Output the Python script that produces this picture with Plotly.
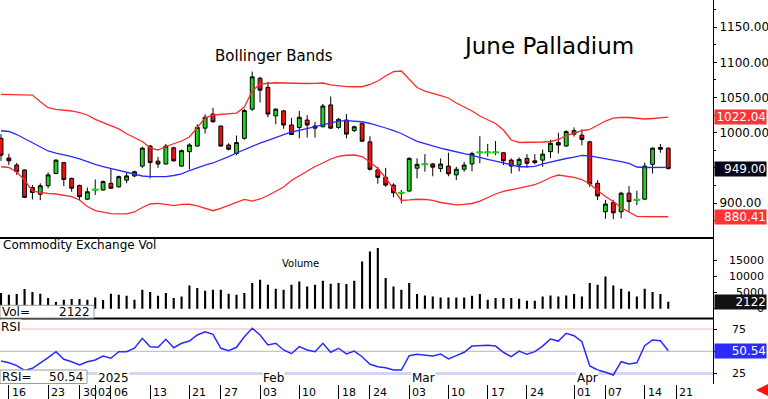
import plotly.graph_objects as go

# ---------------- data ----------------
open_ = [992, 964, 954, 947, 922, 912.5, 924.5, 942, 957.5, 935, 925, 905.5, 919, 918.5, 928, 923,
         932.5, 938.5, 952.5, 981, 959.5, 955.5, 978.5, 952.5, 973, 981, 1006.5, 1026.5, 1009.5, 982.5,
         970.5, 992, 1033.5, 1077.5, 1064.5, 1024, 1031, 1011, 1007.5, 1018, 1009.5, 1008.5, 1039.5,
         1007.5, 1018, 1003, 1013.5, 987, 947, 936.5, 925.5, 914.5, 917, 949.5, 955, 955.5, 949, 952.5,
         940, 948, 955.5, 972, 972, 972, 971.5, 961, 954, 963.5, 960, 961, 973, 986, 981, 1003, 996.5,
         987, 928, 887.5, 900.5, 887.5, 914, 904.5, 905.5, 955, 979, 978]
high = [998, 970, 957, 948, 925.5, 928, 943.5, 962, 958.5, 936, 926, 922, 933.5, 932, 948.5, 939,
        943, 946, 980, 982.5, 965.5, 984, 980, 976, 985, 1012, 1026, 1035.5, 1010, 985,
        996, 1034, 1087, 1079.5, 1072.5, 1034.5, 1032.5, 1021, 1031, 1025, 1015.5, 1041, 1051.5,
        1021, 1026.5, 1010, 1014, 995, 951.5, 950, 928, 918.5, 965, 963.5, 969.5, 957, 963.5, 971.5,
        951.5, 958.5, 973, 995, 984, 988, 972, 963.5, 965, 969.5, 969.5, 976, 990, 1000, 1003.5, 1007.5, 1005,
        988.5, 932.5, 904.5, 904.5, 916, 924, 917.5, 957.5, 979, 984, 979]
low = [960, 954, 940, 907, 905, 904, 921, 941, 924, 916, 904, 904, 911.5, 917.5, 920, 922,
       928, 937, 950, 935, 950, 955, 959, 951.5, 948, 980, 999, 1014.5, 980, 975,
       968, 990, 1031, 1043, 1022, 1012, 1005.5, 997, 992, 993, 993, 1007.5, 1005.5,
       1005.5, 992, 1001, 987, 946, 927.5, 923, 908, 899.5, 916, 935, 944.5, 938, 944, 938,
       932.5, 944.5, 945, 956.5, 966, 968, 954, 942, 945, 950, 955, 951.5, 964, 970.5, 980, 994.5, 982,
       923, 904, 877.5, 877, 878, 887.5, 897, 904.5, 942, 971.5, 947.5]
close = [968, 960, 944.5, 908, 915, 924.5, 940, 961, 933.5, 921, 909, 916, 919, 930.5, 921, 937.5,
         938.5, 944.5, 978, 957.5, 955.5, 981, 960, 974.5, 982.5, 1007.5, 1022, 1015.5, 981, 976.5,
         986, 1031.5, 1079.5, 1060.5, 1026.5, 1033.5, 1011, 997.5, 1022, 1011, 1006.5, 1038, 1006.5,
         1019, 998, 1008.5, 988, 948, 936.5, 925.5, 914.5, 914.5, 963.5, 955, 955, 951, 955.5, 941.5,
         948, 954, 970.5, 972, 972, 972, 960, 952.5, 962, 956.5, 957.5, 969.5, 985, 982.5, 1001.5, 998, 990.5,
         927, 910, 898.5, 886, 914, 902, 904.5, 952.5, 978, 976.5, 949.00]

bb_upper = [1054.6, 1054.6, 1054.6, 1054.3, 1053.6, 1044, 1035.6, 1033.3, 1032.3, 1030.9, 1028.4, 1025.2,
            1019, 1014.2, 1010, 1005.5, 998.5, 993, 987.5, 978.2, 975.4, 980.4, 983.9, 988.2, 993.9,
            1006.7, 1020.9, 1025.2, 1025.9, 1026.6, 1028, 1036.6, 1059.3, 1069.3, 1070.7, 1071.1, 1070.7,
            1070.3, 1070, 1070, 1070.3, 1070.7, 1067.9, 1066.4, 1065.7, 1065.4, 1065.4, 1068.6, 1073.5,
            1080.7, 1086.8, 1087.8, 1075.7, 1064.3, 1059.3, 1056.5, 1052.9, 1049.4, 1042.2, 1036.6, 1030.9,
            1023.8, 1018, 1013.1, 1003.8, 989.6, 986.1, 986.1, 986.3, 986.8, 987.5, 990.3, 996, 999.6,
            1002.8, 1004.6, 1011, 1016.6, 1020.9, 1021.9, 1021.6, 1020.2, 1019.5, 1020.2, 1020.9, 1022.04]
bb_mid = [1002.8, 1001.7, 997.4, 991.7, 986.1, 980.4, 974, 971.1, 969, 966.1, 962.6, 958.3, 954.8, 951.9,
          949.1, 946.9, 943.2, 940.5, 938.4, 937.4, 937.4, 937.4, 939.1, 941.3, 946.2, 950.5, 954, 956.9,
          961.2, 966.1, 971.1, 976.2, 980.7, 985.3, 989.2, 993.2, 996.7, 1001, 1003.4, 1006, 1008.8,
          1011.7, 1014.5, 1016.6, 1017.1, 1016.6, 1015.6, 1013.1, 1010.2, 1006.7, 1003.1, 998.9, 993.2,
          987.8, 984.6, 981.1, 978.2, 975.4, 973.3, 970.4, 967.6, 964.2, 961.9, 959.7, 956.9, 953.3,
          951.6, 951.6, 952.2, 955.5, 958.3, 961.2, 963.3, 965.4, 967.6, 966.9, 965, 963, 961.2, 959,
          956.2, 951.2, 950.5, 950.5, 950.8, 950.8]
bb_lower = [951.6, 950.5, 944.1, 932.7, 917, 914.9, 913.8, 912.8, 911.4, 909.2, 904.3, 895, 889.3, 886.5,
            884.8, 884.4, 884.4, 887.2, 893.6, 898.6, 899.6, 897.9, 896.4, 897.9, 898.2, 896, 892.2, 889,
            892.2, 896.4, 900, 905, 902.8, 905.7, 910.7, 916.4, 922.8, 932, 938.4, 945.5, 951.9, 956.9,
            962.6, 966.4, 967.9, 968.3, 966.1, 958.3, 949.1, 935.6, 919.2, 903.6, 904.3, 905.3, 905,
            903.6, 900.7, 898.6, 897.2, 897.9, 899.3, 902.8, 907.8, 912.8, 916.4, 919.2, 921.3, 923.5,
            926.3, 930.6, 936.3, 939.8, 938.4, 936.6, 933.4, 927, 917.8, 909.2, 902.1, 893.6, 887.2,
            881.1, 880.5, 880.5, 880.4, 880.41]

volume = [4850, 4330, 4540, 6090, 5160, 4640, 3310, 2070, 2780, 3000, 3000, 2780, 3490, 2690, 4640, 4330,
          4020, 2780, 5870, 5160, 4020, 4850, 3310, 3800, 7200, 6400, 5560, 5870, 5870, 4640, 4330, 4850,
          7940, 8960, 7420, 6180, 5870, 7420, 8440, 6890, 7420, 8650, 7730, 7940, 7630, 8650, 14620,
          17710, 18760, 9490, 6890, 5870, 7940, 4540, 4110, 3800, 3490, 3490, 3490, 3490, 4020, 4540,
          2780, 3310, 3310, 3310, 3090, 2470, 2470, 3800, 4110, 3800, 4110, 4540, 3800, 7940, 7420,
          9980, 7200, 6180, 5350, 3800, 6180, 5160, 4540, 2122]

rsi = [39.1, 37.2, 33.9, 28.5, 30.9, 36.5, 42.8, 49.6, 41, 38.3, 34.6, 38.3, 40.2, 44.7, 42.2, 49.6, 49.6,
       53.4, 64.6, 55.2, 54.5, 63.5, 54, 59, 61.5, 68.3, 72, 69.1, 53.4, 50.7, 54.5, 66.4, 75.8, 68.3, 57.1,
       59, 51.5, 47.3, 55.2, 51.5, 49.6, 59, 48.9, 53.4, 47, 50.3, 43.9, 35.4, 32.7, 31.6, 29, 29, 45.1,
       46.6, 45.9, 44.7, 47, 41.4, 45.1, 48.9, 55.9, 56.3, 56.7, 55.9, 48.9, 43.9, 50.3, 46.6, 49.6, 55.9,
       63.8, 61.5, 70.2, 67.5, 60.8, 33.5, 29, 26.5, 23.4, 38.3, 35.8, 37.2, 56.3, 62.7, 61.9, 50.54]

tick_index = [1, 6, 10, 12, 14, 19, 24, 28, 33, 38, 43, 47, 52, 57, 62, 67, 73, 77, 82, 86]
tick_labels = ["16", "23", "30", "02", "06", "13", "21", "27", "03", "10", "18", "24", "03", "10",
               "17", "24", "01", "07", "14", "21"]
month_index = [12, 33, 52, 73]
month_labels = ["2025", "Feb", "Mar", "Apr"]
price_ticks = [900, 950, 1000, 1050, 1100, 1150]
price_tick_labels = ["900.00", "", "1000.00", "1050.00", "1100.00", "1150.00"]  # 950 hidden by last-price box
vol_ticks = [0, 5000, 10000, 15000]
vol_tick_labels = ["0", "5000", "10000", "15000"]
rsi_ticks = [25, 50, 75]
rsi_tick_labels = ["25", "", "75"]  # 50 hidden by last-RSI box

# ---------------- layout helpers ----------------
W, H = 768, 399
PW, PH = 713, 384          # plot area (l=0, r=55, t=0, b=15)
FONT = "DejaVu Sans"
GREEN = "#1ed21e"
RED = "#ee1111"
BAND_RED = "#ff2a2a"
BLUE = "#2a2aff"


def pxx(x):
    return x / PW


def pxy(y):
    return 1 - y / PH


x = list(range(len(close)))
main_dom = [pxy(238), 1]
vol_dom = [pxy(318.5), pxy(238)]
rsi_dom = [0, pxy(318.5)]

fig = go.Figure()

fig.add_trace(go.Scatter(x=x, y=bb_upper, mode="lines", line=dict(color=BAND_RED, width=1.3),
                         xaxis="x", yaxis="y", hoverinfo="skip"))
fig.add_trace(go.Scatter(x=x, y=bb_lower, mode="lines", line=dict(color=BAND_RED, width=1.3),
                         xaxis="x", yaxis="y", hoverinfo="skip"))
fig.add_trace(go.Scatter(x=x, y=bb_mid, mode="lines", line=dict(color=BLUE, width=1.3),
                         xaxis="x", yaxis="y", hoverinfo="skip"))
fig.add_trace(go.Candlestick(
    x=x, open=open_, high=high, low=low, close=close,
    increasing=dict(fillcolor=GREEN, line=dict(color="black", width=1)),
    decreasing=dict(fillcolor=RED, line=dict(color="black", width=1)),
    whiskerwidth=0, xaxis="x", yaxis="y"))
doji_x = [i for i in x if open_[i] == close[i]]
fig.add_trace(go.Scatter(x=doji_x, y=[close[i] for i in doji_x], mode="markers",
                         marker=dict(symbol="line-ew", size=5, line=dict(color=GREEN, width=2)),
                         xaxis="x", yaxis="y", hoverinfo="skip"))

fig.add_trace(go.Bar(x=x, y=volume, width=0.27, marker=dict(color="black", line=dict(width=0)),
                     xaxis="x", yaxis="y2"))
fig.add_trace(go.Scatter(x=x, y=rsi, mode="lines", line=dict(color=BLUE, width=1.5),
                         xaxis="x", yaxis="y3"))

shapes = [
    dict(type="line", xref="paper", yref="y3", x0=0, x1=1, y0=75, y1=75,
         line=dict(color="#ffb4b4", width=1), layer="below"),
    dict(type="line", xref="paper", yref="y3", x0=0, x1=1, y0=50, y1=50,
         line=dict(color="#b4b4b4", width=1), layer="below"),
    dict(type="line", xref="paper", yref="y3", x0=0, x1=1, y0=25, y1=25,
         line=dict(color="#d4d4f6", width=3), layer="below"),
    dict(type="line", xref="paper", yref="paper", x0=0, x1=1, y0=pxy(238), y1=pxy(238),
         line=dict(color="black", width=2)),
    dict(type="line", xref="paper", yref="paper", x0=0, x1=1, y0=pxy(318.5), y1=pxy(318.5),
         line=dict(color="black", width=2)),
    dict(type="rect", xref="paper", yref="paper", x0=0, x1=pxx(94), y0=pxy(318), y1=pxy(305.3),
         fillcolor="white", line=dict(color="#9a9a9a", width=1), layer="above"),
    dict(type="rect", xref="paper", yref="paper", x0=0, x1=pxx(87), y0=pxy(383.5), y1=pxy(370),
         fillcolor="white", line=dict(color="#9a9a9a", width=1), layer="above"),
]

ann = []


def text(xv, yv, t, size=12, xref="paper", yref="paper", xanchor="left", **kw):
    d = dict(x=xv, y=yv, xref=xref, yref=yref, text=t, showarrow=False, xanchor=xanchor,
             yanchor="middle", font=dict(family=FONT, size=size, color=kw.pop("color", "black")))
    d.update(kw)
    ann.append(d)


text(pxx(213), pxy(56), "Bollinger Bands", size=15)
text(pxx(461), pxy(46), "June Palladium", size=23)
text(pxx(1), pxy(245), "Commodity Exchange Vol", size=12)
text(pxx(280), pxy(263), "Volume", size=10)
text(0, pxy(327), "RSI", size=12, bgcolor="white", borderpad=0)
text(0, pxy(312), "Vol=", size=12)
text(pxx(92), pxy(312), f"{volume[-1]}", size=12, xanchor="right")
text(0, pxy(377), "RSI=", size=12)
text(pxx(85), pxy(377), f"{rsi[-1]:.2f}", size=12, xanchor="right")

for i, t in zip(tick_index, tick_labels):
    text(i, pxy(392), t, size=11, xref="x", xshift=1)
for i, t in zip(month_index, month_labels):
    text(i, pxy(378), t, size=12, xref="x", xshift=2, bgcolor="white", borderpad=0)

for v, t in zip(vol_ticks, vol_tick_labels):
    text(pxx(766), v, t, size=11, yref="y2", xanchor="right")
for v, t in zip(rsi_ticks, rsi_tick_labels):
    if t:
        text(pxx(730), v, t, size=11, yref="y3")

# value boxes on the right axis
text(1, bb_upper[-1], f"{bb_upper[-1]:.2f}", size=12, yref="y", color="white", bgcolor="#ff3333",
     width=51, align="right", borderpad=0, xshift=1)
text(1, bb_lower[-1], f"{bb_lower[-1]:.2f}", size=12, yref="y", color="white", bgcolor="#ff3333",
     width=51, align="right", borderpad=0, xshift=1)
text(1, close[-1], f"{close[-1]:.2f}", size=12, yref="y", color="white", bgcolor="#05051a",
     width=51, align="right", borderpad=0, xshift=1)
text(1, volume[-1], f"{volume[-1]}", size=12, yref="y2", color="white", bgcolor="#111111",
     width=51, align="right", borderpad=0, xshift=1)
text(1, rsi[-1], f"{rsi[-1]:.2f}", size=12, yref="y3", color="white", bgcolor="#2b2bff",
     width=51, align="right", borderpad=0, xshift=1)

ann.append(dict(x=pxx(756), y=pxy(390), xref="paper", yref="paper", text="", showarrow=True,
                ax=11, ay=0, arrowhead=2, arrowsize=0.8, arrowwidth=3, arrowcolor="#ff1010"))

axis_common = dict(side="right", anchor="x", showline=True, linecolor="black", linewidth=1,
                   ticks="outside", ticklen=3, tickcolor="black", showgrid=False, zeroline=False,
                   fixedrange=True)

fig.update_layout(
    width=W, height=H,
    margin=dict(l=0, r=W - PW, t=0, b=H - PH, pad=0),
    paper_bgcolor="white", plot_bgcolor="white",
    showlegend=False,
    font=dict(family=FONT, size=12, color="black"),
    boxgap=0.3,
    xaxis=dict(domain=[0, 1], range=[-0.13, 90.7], anchor="y3", showgrid=False, zeroline=False,
               showline=False, ticks="outside", ticklen=15, tickcolor="black", tickwidth=1,
               tickmode="array", tickvals=tick_index, showticklabels=False,
               rangeslider=dict(visible=False), fixedrange=True),
    yaxis=dict(domain=main_dom, range=[850.2, 1188.8], tickmode="array", tickvals=price_ticks,
               ticktext=price_tick_labels, tickfont=dict(size=12),
               minor=dict(dtick=25, tick0=0, ticks="outside", ticklen=2, tickcolor="black"),
               **axis_common),
    yaxis2=dict(domain=vol_dom, range=[-3028, 21846], tickmode="array", tickvals=vol_ticks,
                showticklabels=False, **axis_common),
    yaxis3=dict(domain=rsi_dom, range=[13.3, 86.8], tickmode="array", tickvals=rsi_ticks,
                showticklabels=False, **axis_common),
    shapes=shapes,
    annotations=ann,
)

fig.write_html(
    "out.html",
    config={"displayModeBar": False},
    post_script="document.body.style.margin='0';document.body.style.overflow='hidden';",
)
